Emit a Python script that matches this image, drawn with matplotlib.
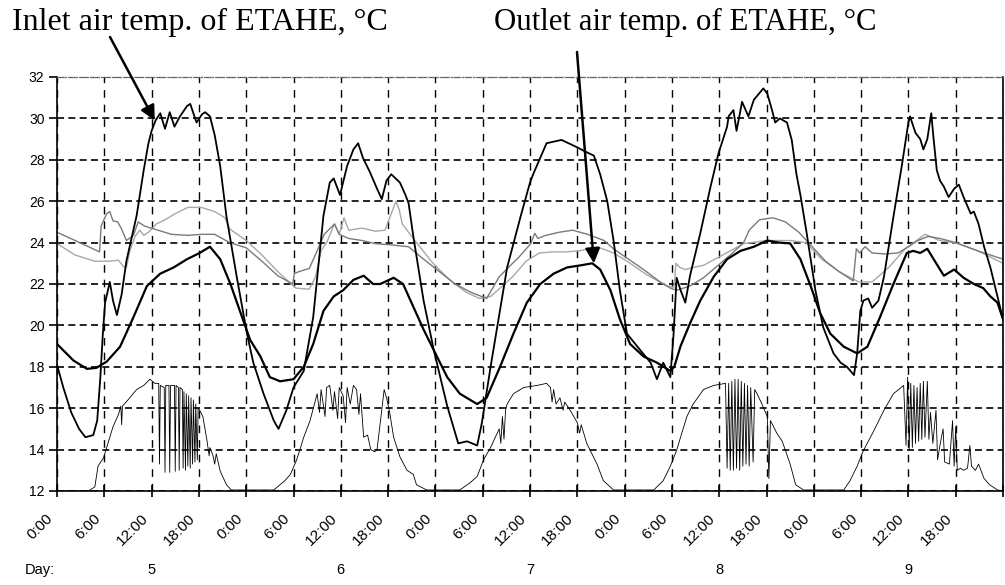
import numpy as np
import matplotlib
matplotlib.use("Agg")
import matplotlib.pyplot as plt
from matplotlib.transforms import ScaledTranslation

# hours since 0:00 of day 5, temperatures in degC
inlet_h = [0, 0.8, 1.8, 2.8, 3.6, 4.6, 5.1, 5.5, 5.8, 6.1, 6.7, 7.1, 7.6, 8.2, 8.8, 10.1, 11.0, 11.6,
           12.0, 12.5, 13.1, 13.7, 14.3, 14.9, 15.6, 16.5, 16.9, 17.7, 18.4, 18.8, 19.4, 20.0, 20.7,
           21.5, 22.8, 24.1, 24.9, 26.2, 27.5, 28.1, 29.1, 30.0, 31.3, 32.5, 33.8, 34.6, 35.1, 35.9,
           36.8, 37.6, 38.2, 38.8, 39.7, 40.6, 41.2, 41.8, 42.4, 43.5, 44.2, 44.6, 45.2, 46.5, 47.8,
           49.5, 50.9, 52.0, 53.3, 53.9, 55.0, 57.1, 58.8, 60.0, 60.4, 62.1, 64.0, 66.0, 67.0, 68.1,
           68.9, 69.8, 70.6, 71.4, 72.3, 74.0, 75.3, 76.1, 76.9, 77.8, 78.2, 78.6, 79.1, 79.7, 80.3,
           81.6, 82.9, 83.9, 85.0, 85.2, 85.8, 86.2, 86.9, 87.7, 88.4, 89.6, 90.1, 90.7, 91.1, 91.7,
           92.6, 93.2, 93.8, 94.3, 95.1, 96.2, 97.2, 98.5, 99.4, 100.2, 101.1, 101.5, 101.9, 102.3,
           102.9, 103.4, 104.2, 104.9, 106.1, 107.2, 107.6, 108.0, 108.2, 108.9, 109.5, 109.9, 110.4,
           110.9, 111.2, 111.6, 112.0, 112.5, 113.1, 113.8, 114.4, 115.0, 115.9, 116.3, 116.9, 117.6,
           118.4, 119.3, 120]
inlet_t = [18.1, 17.0, 15.8, 15.0, 14.6, 14.7, 15.4, 17.5, 19.5, 21.1, 22.1, 21.2, 20.5, 21.5, 23.1,
           25.3, 27.5, 28.8, 29.4, 29.9, 30.25, 29.5, 30.3, 29.6, 30.1, 30.6, 30.7, 29.8, 30.2, 30.3,
           30.1, 29.2, 27.7, 25.25, 22.35, 19.6, 18.2, 16.7, 15.4, 15.0, 15.9, 17.0, 17.8, 20.4, 25.3,
           26.9, 27.1, 26.3, 27.7, 28.5, 28.8, 28.1, 27.4, 26.6, 26.1, 27.0, 27.3, 26.9, 26.3, 25.9,
           24.3, 21.2, 18.8, 16.1, 14.3, 14.4, 14.2, 15.3, 18.0, 22.8, 25.25, 26.9, 27.3, 28.8, 28.96,
           28.6, 28.4, 28.2, 27.3, 26.0, 24.1, 21.7, 19.6, 18.8, 18.2, 17.4, 18.2, 17.5, 19.5, 22.3,
           21.7, 21.1, 22.4, 24.45, 26.7, 28.3, 29.6, 30.1, 30.4, 29.4, 30.8, 30.1, 30.9, 31.45, 31.2,
           30.4, 29.8, 30.0, 29.8, 28.96, 27.3, 26.3, 24.45, 21.7, 19.9, 18.65, 18.2, 18.0, 17.6,
           18.65, 20.7, 21.2, 21.3, 20.85, 21.2, 22.35, 25.25, 27.8, 28.8, 29.8, 30.1, 29.3, 29.0,
           28.5, 29.0, 30.25, 29.0, 27.5, 27.0, 26.7, 26.2, 26.6, 26.8, 26.2, 25.4, 25.5, 24.9, 23.8,
           22.8, 21.4, 20.3]

outlet_h = [0, 2.1, 3.8, 5.0, 6.3, 8.0, 9.7, 11.4, 13.1, 14.8, 16.5, 18.1, 19.4, 20.7, 22.0, 23.2,
            24.5, 25.8, 27.0, 28.3, 30.0, 31.3, 32.5, 33.8, 35.1, 36.3, 37.6, 38.9, 40.1, 41.0, 42.7,
            43.9, 45.2, 46.5, 47.8, 49.5, 51.1, 53.3, 54.5, 56.2, 57.9, 59.6, 61.3, 63.0, 64.7, 66.4,
            67.9, 68.9, 70.2, 71.4, 72.7, 74.4, 76.1, 77.8, 78.3, 79.1, 80.3, 81.6, 83.3, 85.0, 86.7,
            88.4, 90.1, 91.6, 93.0, 94.3, 95.6, 96.8, 98.1, 99.8, 101.5, 102.8, 104.4, 106.1, 107.8,
            108.6, 109.5, 110.4, 111.2, 112.5, 113.8, 115.0, 116.3, 117.5, 118.4, 119.3, 120]
outlet_t = [19.1, 18.3, 17.9, 17.95, 18.25, 18.97, 20.4, 21.9, 22.5, 22.8, 23.2, 23.5, 23.8, 23.2,
            22.0, 20.7, 19.3, 18.5, 17.5, 17.3, 17.4, 18.0, 19.1, 20.7, 21.4, 21.7, 22.2, 22.4, 22.0,
            22.0, 22.3, 22.0, 20.9, 19.8, 18.8, 17.5, 16.7, 16.2, 16.5, 18.0, 19.6, 21.1, 22.0, 22.5,
            22.8, 22.9, 23.0, 22.7, 21.7, 20.3, 19.1, 18.5, 18.2, 17.8, 18.0, 19.0, 20.1, 21.2, 22.35,
            23.2, 23.6, 23.8, 24.1, 24.0, 23.96, 23.2, 21.9, 20.6, 19.6, 18.97, 18.65, 18.97, 20.4,
            22.0, 23.5, 23.6, 23.5, 23.7, 23.2, 22.4, 22.7, 22.3, 22.0, 21.8, 21.4, 21.1, 20.3]

grey_a_h = [0, 2.3, 4.0, 5.4, 5.6, 6.3, 6.7, 7.1, 7.7, 8.2, 8.8, 9.7, 10.3, 11.1, 12.4, 14.5, 16.6,
            18.3, 20.0, 21.9, 24.0, 26.0, 28.0, 29.9, 30.1, 30.7, 32.0, 33.0, 33.9, 35.2, 35.8, 37.0,
            38.7, 40.4, 42.1, 44.6, 46.5, 48.5, 50.5, 52.5, 54.5, 56.1, 57.4, 58.6, 60.1, 60.6, 61.0,
            62.0, 63.7, 65.4, 67.3, 69.4, 70.6, 72.3, 74.4, 76.5, 77.8, 78.6, 80.3, 82.0, 83.7, 85.4,
            87.1, 87.8, 89.1, 90.8, 92.4, 94.1, 95.8, 97.5, 99.2, 101.0, 101.4, 101.8, 102.5, 103.4,
            105.0, 106.7, 108.0, 109.2, 110.5, 112.0, 114.0, 116.8, 120]
grey_a_t = [24.5, 24.1, 23.8, 23.55, 24.8, 25.4, 25.5, 25.05, 25.0, 24.65, 24.1, 24.35, 25.0, 24.8,
            24.65, 24.4, 24.35, 24.4, 24.4, 24.0, 23.75, 23.1, 22.4, 22.0, 22.5, 22.6, 22.75, 23.6,
            24.4, 24.9, 24.4, 24.2, 24.1, 23.95, 23.9, 23.8, 23.2, 22.6, 22.0, 21.6, 21.3, 22.35, 22.85,
            23.3, 23.95, 24.45, 24.2, 24.35, 24.5, 24.6, 24.4, 24.1, 23.7, 23.25, 22.7, 22.1, 21.8,
            21.7, 21.9, 22.3, 22.85, 23.4, 24.0, 24.6, 25.1, 25.2, 25.0, 24.5, 23.8, 23.1, 22.6, 22.15,
            23.7, 23.5, 23.8, 23.5, 23.45, 23.5, 23.8, 24.1, 24.3, 24.2, 24.0, 23.6, 23.2]

grey_b_h = [0, 2.3, 4.8, 6.5, 7.8, 8.4, 8.8, 9.25, 9.9, 10.5, 11.0, 11.6, 12.0, 12.6, 13.7, 15.0,
            16.6, 18.3, 20.0, 21.3, 21.9, 24.0, 26.0, 28.0, 30.3, 32.0, 32.8, 33.5, 34.2, 35.2, 35.8,
            36.4, 37.0, 38.7, 40.4, 41.6, 42.5, 43.0, 43.4, 43.8, 45.6, 47.7, 49.8, 51.9, 53.6, 55.0,
            56.5, 57.8, 59.5, 61.2, 62.9, 64.5, 66.2, 68.5, 70.6, 72.3, 74.8, 77.4, 78.3, 78.5, 79.0,
            79.7, 80.7, 82.0, 83.7, 85.4, 87.1, 90.0, 93.0, 95.0, 97.0, 99.2, 101.7, 103.4, 105.5,
            107.6, 110.1, 112.0, 114.3, 116.8, 120]
grey_b_t = [23.95, 23.4, 23.1, 23.1, 23.15, 22.85, 22.8, 23.6, 24.3, 24.6, 24.35, 24.5, 24.65, 24.9,
            25.1, 25.4, 25.7, 25.7, 25.5, 25.2, 24.66, 24.1, 23.4, 22.6, 21.8, 21.75, 22.35, 23.6,
            24.0, 24.9, 24.4, 25.2, 24.6, 24.7, 24.55, 24.6, 25.5, 26.0, 25.6, 24.9, 24.0, 23.0, 22.2,
            21.6, 21.3, 21.4, 21.9, 22.35, 23.1, 23.5, 23.55, 23.55, 23.6, 23.8, 23.5, 23.1, 22.45,
            21.9, 21.85, 23.0, 22.8, 22.7, 22.8, 22.9, 23.25, 23.6, 23.95, 24.1, 24.1, 24.0, 23.2,
            22.6, 22.1, 22.1, 22.8, 23.7, 24.4, 24.1, 23.95, 23.6, 23.0]

# solar radiation trace (plotted on the temperature scale, base = 12)
solar_h = [0, 4.0, 4.8, 5.2, 5.9, 7.1, 7.8, 8.1, 8.2, 8.3, 9.0, 10.1, 11.0, 11.8, 12.4, 12.9, 13.0,
           13.1, 13.6, 13.7, 13.8, 14.2, 14.3, 14.4, 14.9, 15.0, 15.1, 15.4, 15.5, 15.6, 15.9, 16.0,
           16.1, 16.3, 16.4, 16.6, 16.7, 16.9, 17.0, 17.2, 17.3, 17.5, 17.6, 17.8, 17.9, 18.1, 18.5,
           19.0, 19.3, 19.4, 19.8, 20.0, 20.2, 20.7, 21.5, 22.1,
           27.5, 28.9, 29.6, 30.4, 31.3, 32.1, 33.0, 33.3, 33.5, 34.0, 34.2, 34.6, 35.0, 35.2, 35.6,
           35.8, 36.3, 36.6, 36.8, 37.2, 37.6, 38.0, 38.3, 38.5, 38.9, 39.4, 39.8, 40.3, 40.6, 41.1,
           41.5, 41.8, 42.2, 42.7, 43.5, 44.4, 45.2, 45.6, 46.9,
           51.1, 52.4, 53.3, 54.1, 55.0, 55.6, 56.1, 56.3, 56.5, 56.7, 56.9, 57.1, 57.9, 59.2, 60.9,
           62.1, 62.6, 62.8, 63.0, 63.3, 63.8, 64.2, 64.4, 65.1, 66.0, 66.3, 66.5, 67.2, 68.5, 69.3,
           70.6,
           75.7, 76.9, 77.8, 78.6, 79.1, 79.9, 80.7, 82.0, 83.3, 84.8, 85.0, 85.2, 85.4, 85.6, 85.8,
           86.0, 86.2, 86.4, 86.6, 86.8, 87.0, 87.2, 87.4, 87.6, 87.8, 88.0, 88.3, 88.5, 88.8, 89.3,
           90.1, 90.3, 90.5, 91.3, 92.0, 93.0, 93.7, 94.7,
           99.8, 100.6, 101.5, 102.3, 103.6, 104.9, 106.1, 107.4, 107.7, 107.9, 108.1, 108.3, 108.5,
           108.7, 108.9, 109.1, 109.3, 109.5, 109.7, 109.9, 110.1, 110.4, 110.6, 110.8, 111.1, 111.5,
           111.7, 112.0, 112.4, 112.6, 113.2, 113.6, 113.8, 114.0, 114.2, 114.6, 115.0, 115.5, 115.8,
           116.0, 116.5, 116.9, 117.6, 118.3, 119.3, 120]
solar_v = [12.0, 12.0, 12.2, 13.2, 13.6, 15.1, 15.7, 16.1, 15.2, 16.1, 16.4, 16.9, 17.1, 17.4, 17.2,
           17.2, 13.3, 17.1, 17.0, 12.9, 17.1, 17.1, 12.9, 17.1, 17.1, 12.95, 17.1, 17.0, 13.0, 17.0,
           16.9, 13.1, 16.8, 13.0, 16.7, 13.2, 16.6, 13.1, 16.5, 13.3, 16.4, 13.4, 16.2, 13.5, 16.0,
           15.9, 15.6, 14.5, 13.7, 14.1, 13.7, 13.3, 13.8, 12.96, 12.3, 12.05,
           12.05, 12.5, 12.8, 13.5, 14.6, 15.4, 16.7, 15.8, 16.9, 15.6, 17.0, 17.1, 15.9, 16.8, 15.5,
           17.0, 16.6, 15.3, 17.0, 16.2, 17.1, 16.9, 15.7, 16.7, 14.6, 14.7, 14.0, 13.9, 14.0, 15.6,
           16.9, 16.5, 15.8, 14.6, 13.65, 13.0, 12.8, 12.3, 12.05,
           12.05, 12.4, 12.7, 13.5, 14.1, 14.6, 15.0, 14.3, 15.6, 14.5, 15.9, 16.2, 16.7, 17.0, 17.1,
           17.2, 17.0, 16.3, 16.9, 16.2, 16.5, 15.9, 16.3, 15.9, 15.3, 14.8, 15.2, 14.3, 13.3, 12.5,
           12.05,
           12.05, 12.5, 13.2, 13.96, 14.6, 15.6, 16.2, 16.9, 17.1, 17.2, 13.1, 17.2, 13.0, 17.3, 13.0,
           17.4, 13.1, 17.4, 13.0, 17.3, 13.2, 17.2, 13.3, 17.1, 13.2, 17.0, 13.4, 16.9, 16.7, 16.3,
           15.6, 12.6, 15.4, 14.8, 14.4, 13.3, 12.3, 12.05,
           12.05, 12.5, 13.2, 13.96, 14.9, 15.9, 16.7, 17.1, 14.2, 17.5, 14.0, 17.2, 14.1, 17.1, 14.3,
           17.0, 14.4, 17.2, 14.5, 17.3, 14.6, 17.3, 14.5, 15.8, 14.3, 15.9, 13.5, 14.2, 15.0, 13.4,
           13.3, 15.4, 13.2, 15.1, 13.0, 13.1, 13.0, 13.1, 14.2, 13.2, 13.0, 13.3, 12.6, 12.3, 12.05,
           12.0]

hour_ticks = list(range(0, 121, 6))
hour_labels = ["0:00", "6:00", "12:00", "18:00"] * 5 + [""]
day_names = ["5", "6", "7", "8", "9"]
y_ticks = list(range(12, 33, 2))

plt.rcParams['font.family'] = ['Liberation Sans', 'DejaVu Sans']

fig = plt.figure(figsize=(10.05, 5.85), dpi=100)
ax = fig.add_axes([57 / 1005, 94 / 585, 946 / 1005, 414 / 585])

ax.plot(solar_h, solar_v, color='black', lw=0.6)
ax.plot(grey_b_h, grey_b_t, color='#a8a8a8', lw=1.0)
ax.plot(grey_a_h, grey_a_t, color='#7a7a7a', lw=1.0)
ax.plot(outlet_h, outlet_t, color='black', lw=1.6)
ax.plot(inlet_h, inlet_t, color='black', lw=1.3)

ax.set_xlim(0, 120)
ax.set_ylim(12, 32)
ax.set_yticks(y_ticks)
ax.set_xticks(hour_ticks)
ax.set_xticklabels(hour_labels, rotation=45, ha='right', rotation_mode='anchor', fontsize=11)
ax.tick_params(axis='y', direction='out', length=6, width=1.2, labelsize=10, pad=3)
ax.tick_params(axis='x', direction='inout', length=9, width=1.2, pad=10)
shift = ScaledTranslation(-11 / 100, 0, fig.dpi_scale_trans)
for lab in ax.get_xticklabels():
    lab.set_transform(lab.get_transform() + shift)

ax.yaxis.grid(True, color='black', lw=1.2, linestyle=(0, (4.2, 2.6)))
ax.xaxis.grid(True, color='black', lw=1.0, linestyle=(0, (5.5, 5)))
ax.set_axisbelow(True)

for side in ['left', 'bottom', 'right']:
    ax.spines[side].set_color('black')
    ax.spines[side].set_linewidth(1.2)
ax.spines['top'].set_color('#777777')
ax.spines['top'].set_linestyle(':')
ax.spines['top'].set_linewidth(1.0)

# day row under the hour labels
fig.text(25 / 1005, 1 - 570 / 585, "Day:", fontsize=10.5, va='center', ha='left')
for i, d in enumerate(day_names):
    ax.text(12 + 24 * i, -0.19, d, transform=ax.get_xaxis_transform(), fontsize=10.5,
            ha='center', va='center')

serif = ['Liberation Serif', 'DejaVu Serif']
fig.text(12 / 1005, 1 - 22 / 585, "Inlet air temp. of ETAHE, \u00b0C", family=serif,
         fontsize=23, va='center', ha='left')
fig.text(494 / 1005, 1 - 22 / 585, "Outlet air temp. of ETAHE, \u00b0C", family=serif,
         fontsize=22.2, va='center', ha='left')

arrow = dict(arrowstyle='-|>', color='black', lw=1.8, mutation_scale=22, shrinkA=0, shrinkB=0)
ax.annotate('', xy=(12.4, 29.9), xycoords='data', xytext=(110 / 1005, 1 - 37 / 585),
            textcoords='figure fraction', arrowprops=arrow, annotation_clip=False)
ax.annotate('', xy=(68.1, 23.0), xycoords='data', xytext=(577 / 1005, 1 - 52 / 585),
            textcoords='figure fraction', arrowprops=arrow, annotation_clip=False)

fig.savefig("out.png", dpi=100)
